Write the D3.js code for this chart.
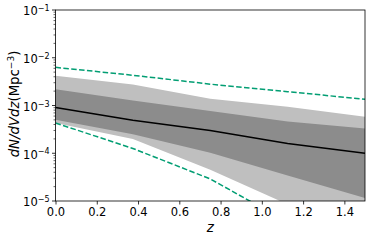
<!DOCTYPE html>
<html>
<head>
<meta charset="utf-8">
<script src="https://cdn.jsdelivr.net/npm/d3@7"></script>
<style>
  body { margin: 0; background: #fff; }
  svg { display: block; font-family: "DejaVu Sans", sans-serif; }
</style>
</head>
<body>
<svg id="chart" width="374" height="241"></svg>
<script>
// redshift grid
const zs = [0, 0.375, 0.75, 1.125, 1.5];
// median
const median = [9.1e-4, 4.9e-4, 3.0e-4, 1.6e-4, 1.0e-4];
// inner band (dark)
const innerLo = [5.0e-4, 2.5e-4, 1.02e-4, 3.4e-5, 1.15e-5];
const innerHi = [2.2e-3, 1.27e-3, 7.7e-4, 4.6e-4, 3.3e-4];
// outer band (light)
const outerLo = [4.3e-4, 2.0e-4, 4.5e-5, 8.5e-6, 2.0e-6];
const outerHi = [4.2e-3, 2.75e-3, 1.38e-3, 9.4e-4, 5.8e-4];
// dashed envelope
const envLo = [4.3e-4, 1.26e-4, 2.9e-5, 3.6e-6, 5e-7];
const envHi = [6.3e-3, 4.3e-3, 2.8e-3, 1.95e-3, 1.35e-3];

const xTicks = [0, 0.2, 0.4, 0.6, 0.8, 1.0, 1.2, 1.4];
const yTicks = [-5, -4, -3, -2, -1];

const svg = d3.select("#chart");
const margin = { top: 10, right: 9, bottom: 40, left: 55.5 };
const W = 374, H = 241;

const x = d3.scaleLinear().domain([0, 1.5]).range([margin.left, W - margin.right]);
const y = d3.scaleLog().domain([1e-5, 1e-1]).range([H - margin.bottom, margin.top]);

svg.append("clipPath").attr("id", "clip")
  .append("rect")
  .attr("x", x(0)).attr("y", y(1e-1))
  .attr("width", x(1.5) - x(0)).attr("height", y(1e-5) - y(1e-1));

const plot = svg.append("g").attr("clip-path", "url(#clip)");

const area = (lo, hi) => d3.area()
  .x((d, i) => x(zs[i]))
  .y0((d, i) => y(lo[i]))
  .y1((d, i) => y(hi[i]))(zs);

const line = vals => d3.line()
  .x((d, i) => x(zs[i]))
  .y((d, i) => y(vals[i]))(zs);

plot.append("path").attr("d", area(outerLo, outerHi)).attr("fill", "#bfbfbf");
plot.append("path").attr("d", area(innerLo, innerHi)).attr("fill", "#8c8c8c");
plot.append("path").attr("d", line(median)).attr("fill", "none")
  .attr("stroke", "#000").attr("stroke-width", 1.5);
[envLo, envHi].forEach(v => {
  plot.append("path").attr("d", line(v)).attr("fill", "none")
    .attr("stroke", "#029e73").attr("stroke-width", 1.5)
    .attr("stroke-dasharray", "5.5,2.4");
});

// frame
svg.append("rect")
  .attr("x", x(0)).attr("y", y(1e-1))
  .attr("width", x(1.5) - x(0)).attr("height", y(1e-5) - y(1e-1))
  .attr("fill", "none").attr("stroke", "#000").attr("stroke-width", 0.8);

// x axis
const xAxis = svg.append("g")
  .attr("transform", `translate(0,${y(1e-5)})`)
  .call(d3.axisBottom(x).tickValues(xTicks).tickFormat(d3.format(".1f"))
    .tickSize(3.5).tickPadding(3.5));
xAxis.select(".domain").remove();
xAxis.selectAll("line").attr("stroke-width", 0.8);
xAxis.selectAll("text").attr("font-size", 11.5).attr("fill", "#000")
  .attr("font-family", "DejaVu Sans");

// y axis: major + minor
const minor = [];
for (let e = -5; e < -1; e++) for (let m = 2; m <= 9; m++) minor.push(m * Math.pow(10, e));
const yg = svg.append("g");
yg.selectAll("line.major").data(yTicks).join("line")
  .attr("x1", x(0) - 3.5).attr("x2", x(0))
  .attr("y1", d => y(Math.pow(10, d))).attr("y2", d => y(Math.pow(10, d)))
  .attr("stroke", "#000").attr("stroke-width", 0.8);
yg.selectAll("line.minor").data(minor).join("line")
  .attr("x1", x(0) - 2).attr("x2", x(0))
  .attr("y1", d => y(d)).attr("y2", d => y(d))
  .attr("stroke", "#000").attr("stroke-width", 0.6);
const labels = yg.selectAll("text").data(yTicks).join("text")
  .attr("x", x(0) - 6).attr("y", d => y(Math.pow(10, d)) + 5.3)
  .attr("text-anchor", "end").attr("font-size", 11.5).attr("fill", "#000");
labels.append("tspan").text("10");
labels.append("tspan").attr("dy", -4.2).attr("font-size", 8).text(d => "\u2212" + Math.abs(d));

// axis titles
svg.append("text")
  .attr("x", (x(0) + x(1.5)) / 2).attr("y", 232)
  .attr("text-anchor", "middle").attr("font-size", 13.5).attr("font-style", "italic")
  .text("z");

const yl = svg.append("text")
  .attr("transform", `translate(18.5,104) rotate(-90)`)
  .attr("text-anchor", "middle").attr("font-size", 13.3);
yl.append("tspan").attr("font-style", "italic").text("dN/dVdz");
yl.append("tspan").text("(Mpc");
yl.append("tspan").attr("dy", -4.5).attr("font-size", 9).text("\u22123");
yl.append("tspan").attr("dy", 4.5).text(")");
</script>
</body>
</html>
